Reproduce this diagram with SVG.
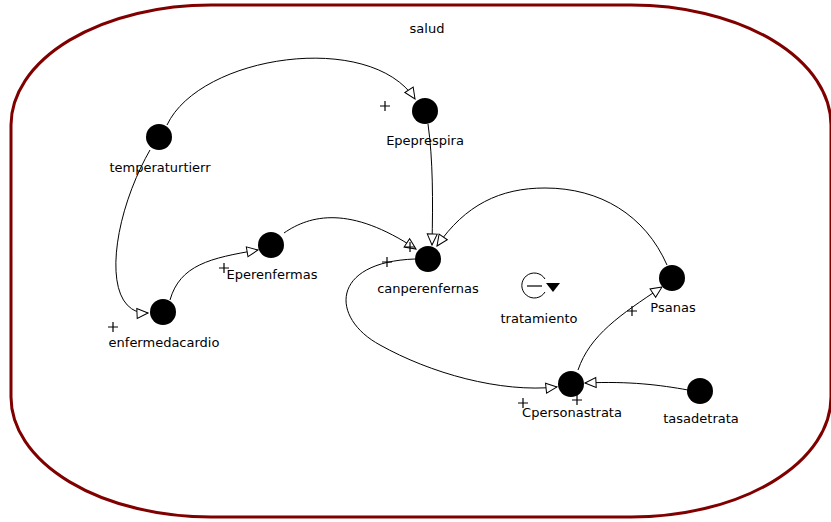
<svg xmlns="http://www.w3.org/2000/svg" width="831" height="522" viewBox="0 0 831 522">
<style>
.lbl{font-family:"DejaVu Sans","Liberation Sans",sans-serif;font-size:13px;fill:#000;text-anchor:middle}
.node{fill:#000}
.link{fill:none;stroke:#000;stroke-width:1;marker-end:url(#arr)}
.plus{stroke:#000;stroke-width:1.2;fill:none}
</style>
<defs>
<marker id="arr" markerUnits="userSpaceOnUse" markerWidth="14" markerHeight="14" viewBox="-12 -7 14 14" refX="0" refY="0" orient="auto">
<path d="M0,0 L-11,-5 L-11,5 Z" fill="#fff" stroke="#000" stroke-width="1"/>
</marker>
</defs>
<rect x="11" y="5" width="820" height="512" rx="200" ry="120" fill="#fff" stroke="#800000" stroke-width="3"/>
<text class="lbl" x="427" y="33">salud</text>
<g id="connectors">
<path class="link" d="M167,125 C200,55 370,30 415,99"/>
<path class="link" d="M150,150 C110,220 100,315 148,313"/>
<path class="link" d="M170,300 C180,265 210,258 258,250"/>
<path class="link" d="M284,233 C310,215 350,205 416,249"/>
<path class="link" d="M428,124 C433,160 433,200 432,245"/>
<path class="link" d="M667,265 C645,215 600,188 545,188 C500,188 465,205 437,246"/>
<path class="link" d="M415,259 C330,262 330,318 380,345 C430,373 500,393 557,387"/>
<path class="link" d="M578,370 C590,335 620,315 662,287"/>
<path class="link" d="M688,390 C660,385 630,381 585,383"/>
<g class="plus">
<path d="M380,106 h10 M385,101 v10"/>
<path d="M108,327 h10 M113,322 v10"/>
<path d="M219,268 h10 M224,263 v10"/>
<path d="M405,247 h10 M410,242 v10"/>
<path d="M382,262 h10 M387,257 v10"/>
<path d="M518,403 h10 M523,398 v10"/>
<path d="M572,400 h10 M577,395 v10"/>
<path d="M627,311 h10 M632,306 v10"/>
</g>
</g>
<g id="temperaturtierr"><circle class="node" cx="159" cy="137" r="13"/><text class="lbl" x="160" y="172">temperaturtierr</text></g>
<g id="Epeprespira"><circle class="node" cx="425" cy="111" r="13"/><text class="lbl" x="425" y="145">Epeprespira</text></g>
<g id="Eperenfermas"><circle class="node" cx="271" cy="245" r="13"/><text class="lbl" x="272" y="279">Eperenfermas</text></g>
<g id="enfermedacardio"><circle class="node" cx="163" cy="312" r="13"/><text class="lbl" x="164" y="347">enfermedacardio</text></g>
<g id="canperenfernas"><circle class="node" cx="428" cy="259" r="13"/><text class="lbl" x="428" y="293">canperenfernas</text></g>
<g id="Psanas"><circle class="node" cx="672" cy="278" r="13"/><text class="lbl" x="673" y="312">Psanas</text></g>
<g id="Cpersonastrata"><circle class="node" cx="571" cy="384" r="13"/><text class="lbl" x="572" y="417">Cpersonastrata</text></g>
<g id="tasadetrata"><circle class="node" cx="700" cy="391" r="13"/><text class="lbl" x="701" y="423">tasadetrata</text></g>
<g id="tratamiento">
<path d="M545,279 A12.5,12.5 0 1 0 545,292" fill="none" stroke="#000" stroke-width="1"/>
<path d="M527,286 H542" stroke="#000" stroke-width="1.2"/>
<path d="M546,283 L560,283 L553,292 Z" fill="#000"/>
<text class="lbl" x="539" y="323">tratamiento</text>
</g>
</svg>
